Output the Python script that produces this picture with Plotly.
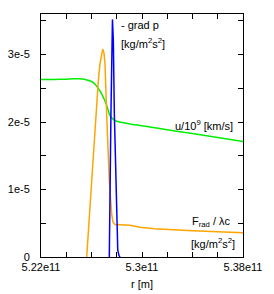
import plotly.graph_objects as go

# radius in units of 1e11 m, values in units of 1e-5
r_u = [5.22, 5.23, 5.24, 5.245, 5.25, 5.255, 5.26, 5.2628, 5.2667, 5.2707, 5.2725,
       5.2741, 5.2755, 5.2773, 5.2800, 5.2905, 5.30, 5.32, 5.34, 5.36, 5.38]
u = [2.63, 2.63, 2.635, 2.64, 2.64, 2.63, 2.60, 2.56, 2.46, 2.31, 2.22,
     2.12, 2.07, 2.04, 2.01, 1.97, 1.945, 1.886, 1.828, 1.769, 1.71]

r_f = [5.2562, 5.2580, 5.2601, 5.2633, 5.2654, 5.2667, 5.2679, 5.2689, 5.2699, 5.2707,
       5.2720, 5.2741, 5.2760, 5.2770, 5.2786, 5.2905, 5.2984, 5.31, 5.34, 5.38]
frad = [0.0, 0.5, 1.13, 2.12, 2.61, 2.86, 3.02, 3.08, 3.02, 2.86,
        2.12, 1.13, 0.63, 0.52, 0.48, 0.47, 0.44, 0.42, 0.39, 0.36]

r_p = [5.2741, 5.2747, 5.2754, 5.2766, 5.2773, 5.2781, 5.2792, 5.2800, 5.2808,
       5.2818, 5.2826]
gradp = [0.0, 1.13, 2.12, 3.52, 3.2, 2.12, 1.13, 0.48, 0.1, 0.02, 0.0]

x_ticks = [5.22 + 0.02 * i for i in range(9)]
x_labels = ["5.22e11", "", "", "", "5.3e11", "", "", "", "5.38e11"]
y_ticks = [0.5 * i for i in range(8)]
y_labels = ["0", "", "1e-5", "", "2e-5", "", "3e-5", ""]

sc = 1e11
sv = 1e-5

fig = go.Figure()
fig.add_trace(go.Scatter(x=[v * sc for v in r_u], y=[v * sv for v in u], mode="lines",
                         line=dict(color="#00ee00", width=1.5, shape="spline", smoothing=0.6),
                         showlegend=False))
fig.add_trace(go.Scatter(x=[v * sc for v in r_f], y=[v * sv for v in frad], mode="lines",
                         line=dict(color="#ffa500", width=1.5), showlegend=False))
fig.add_trace(go.Scatter(x=[v * sc for v in r_p], y=[v * sv for v in gradp], mode="lines",
                         line=dict(color="#0000ff", width=1.5), showlegend=False))

font = dict(family="Liberation Sans, Arial, sans-serif", size=11, color="#000000")

fig.update_layout(
    width=266, height=286,
    margin=dict(l=33, r=31, t=6, b=37),
    paper_bgcolor="white", plot_bgcolor="white",
    font=font,
    xaxis=dict(range=[5.22 * sc, 5.38 * sc], tickvals=[v * sc for v in x_ticks],
               ticktext=x_labels, ticks="inside", ticklen=5, tickcolor="#000",
               showline=True, linecolor="#000", linewidth=1, mirror="ticks",
               showgrid=False, zeroline=False, automargin=False,
               title=dict(text="r [m]", font=font, standoff=8)),
    yaxis=dict(range=[0, 3.6 * sv], tickvals=[v * sv for v in y_ticks],
               ticktext=y_labels, ticks="inside", ticklen=5, tickcolor="#000",
               showline=True, linecolor="#000", linewidth=1, mirror="ticks",
               showgrid=False, zeroline=False, ticklabelstandoff=8, automargin=False),
)

ann = [
    ("- grad p", 0.3876, 0.9546, "left"),
    ("[kg/m<sup>2</sup>s<sup>2</sup>]", 0.386, 0.880, "left"),
    ("u/10<sup>9</sup> [km/s]", 0.960, 0.542, "right"),
    ("F<sub>rad</sub> / λc", 0.7376, 0.1435, "left"),
    ("[kg/m<sup>2</sup>s<sup>2</sup>]", 0.733, 0.0557, "left"),
]
for t, x, y, xa in ann:
    fig.add_annotation(text=t, x=x, y=y, xref="paper", yref="paper", xanchor=xa,
                       yanchor="middle", showarrow=False, font=font)

fig.write_html("out.html")
